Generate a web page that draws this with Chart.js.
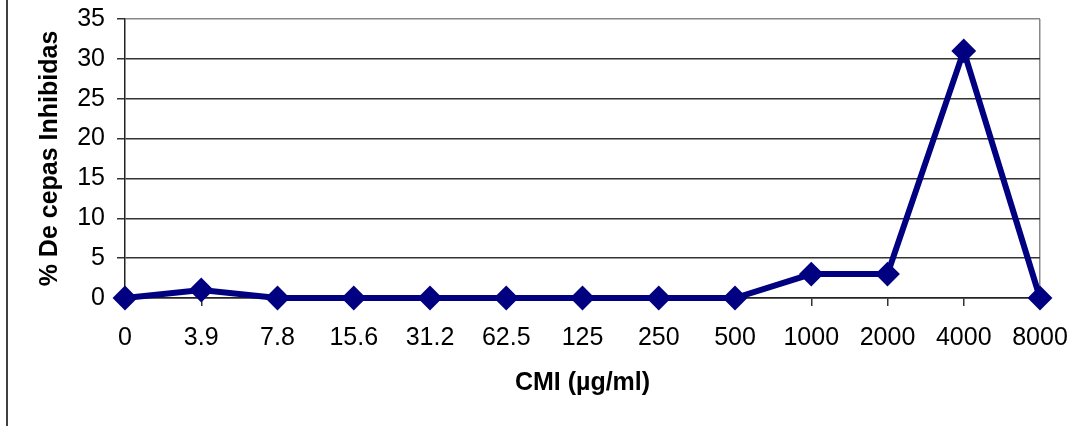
<!DOCTYPE html>
<html>
<head>
<meta charset="utf-8">
<script src="https://cdn.jsdelivr.net/npm/chart.js@4/dist/chart.umd.min.js"></script>
<style>
html,body{margin:0;padding:0;background:#fff;}
canvas{display:block;}
</style>
</head>
<body>
<canvas id="c" width="1090" height="426"></canvas>
<script>
const categories = ['0','3.9','7.8','15.6','31.2','62.5','125','250','500','1000','2000','4000','8000'];
const values = [0,1,0,0,0,0,0,0,0,3,3,31,0];
const yMin = 0, yMax = 35, yStep = 5;
const xTitle = 'CMI (\u00b5g/ml)';
const yTitle = '% De cepas Inhibidas';

const FONT = '"Liberation Sans", Arial, sans-serif';

const frameLine = {
  id: 'frameLine',
  beforeDraw(chart) {
    const ctx = chart.ctx;
    ctx.save();
    ctx.strokeStyle = '#000';
    ctx.lineWidth = 1.5;
    ctx.beginPath();
    ctx.moveTo(7, 0);
    ctx.lineTo(7, chart.height);
    ctx.stroke();
    ctx.restore();
  }
};

new Chart(document.getElementById('c'), {
  type: 'line',
  data: {
    labels: categories,
    datasets: [{
      data: values,
      borderColor: '#000080',
      backgroundColor: '#000080',
      borderWidth: 6,
      tension: 0,
      pointStyle: 'rectRot',
      pointRadius: 11,
      pointBorderWidth: 2,
      pointBackgroundColor: '#000080',
      pointBorderColor: '#000080',
      clip: false
    }]
  },
  options: {
    responsive: false,
    animation: false,
    layout: { padding: { top: 19, right: 50, left: 0, bottom: 0 } },
    plugins: { legend: { display: false }, tooltip: { enabled: false } },
    scales: {
      x: {
        type: 'category',
        offset: false,
        afterFit(scale) { scale.height = 128; },
        grid: {
          drawOnChartArea: true,
          drawTicks: true,
          tickLength: 8,
          lineWidth: 1.5,
          color: (c) => c.index === categories.length - 1 ? '#888' : 'rgba(0,0,0,0)',
          tickColor: '#333'
        },
        border: { display: true, color: '#222', width: 1.5 },
        ticks: {
          color: '#000',
          font: { family: FONT, size: 25 },
          padding: 17,
          maxRotation: 0,
          autoSkip: false
        },
        title: {
          display: true,
          text: xTitle,
          color: '#000',
          font: { family: FONT, size: 25, weight: 'bold' },
          padding: { top: 0, bottom: 28 }
        }
      },
      y: {
        min: yMin,
        max: yMax,
        afterFit(scale) { scale.width = 125; scale.paddingTop = 0; scale.paddingBottom = 0; },
        grid: {
          drawTicks: true,
          tickLength: 8,
          lineWidth: 1.5,
          color: (c) => (c.tick && c.tick.value === yMax) ? '#888' : '#333',
          tickColor: '#333'
        },
        border: { display: true, color: '#222', width: 1.5 },
        ticks: {
          stepSize: yStep,
          color: '#000',
          font: { family: FONT, size: 25 },
          padding: 12
        },
        title: {
          display: true,
          text: yTitle,
          color: '#000',
          font: { family: FONT, size: 25, weight: 'bold' },
          padding: { top: 35, bottom: 0 }
        }
      }
    }
  },
  plugins: [frameLine]
});
</script>
</body>
</html>
